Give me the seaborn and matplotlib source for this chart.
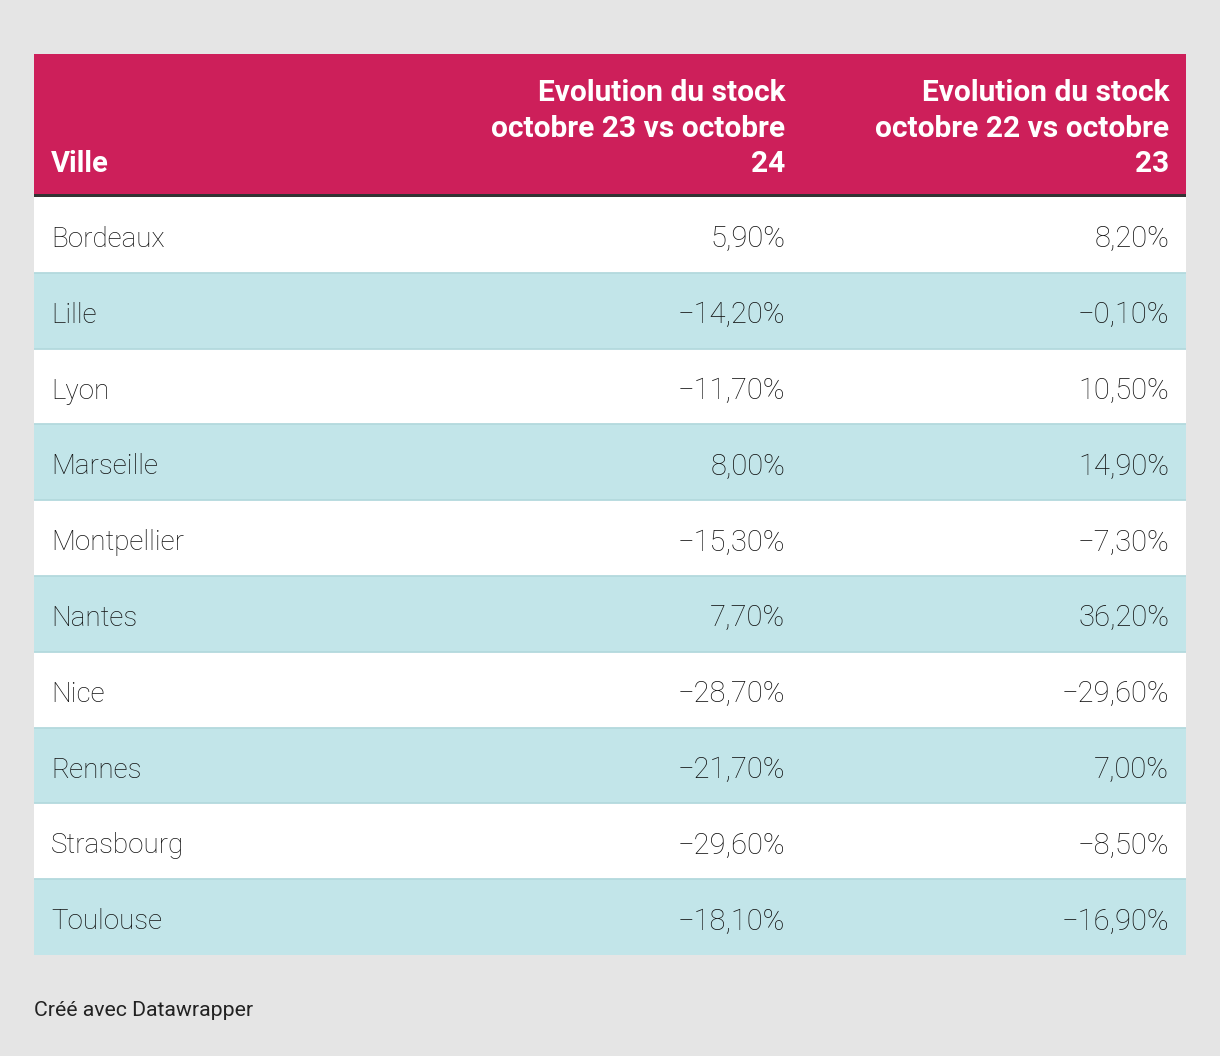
import numpy as np
import pandas as pd
import matplotlib.pyplot as plt
import seaborn as sns
from matplotlib.colors import ListedColormap
from matplotlib.patches import Rectangle

villes = ['Bordeaux', 'Lille', 'Lyon', 'Marseille', 'Montpellier',
          'Nantes', 'Nice', 'Rennes', 'Strasbourg', 'Toulouse']
evol_23_24 = [5.9, -14.2, -11.7, 8.0, -15.3, 7.7, -28.7, -21.7, -29.6, -18.1]
evol_22_23 = [8.2, -0.1, 10.5, 14.9, -7.3, 36.2, -29.6, 7.0, -8.5, -16.9]
entetes = ['Ville',
           'Evolution du stock\noctobre 23 vs octobre\n24',
           'Evolution du stock\noctobre 22 vs octobre\n23']


def fmt(v):
    s = f"{abs(v):.2f}".replace('.', ',') + '%'
    return ('\u2212' + s) if v < 0 else s


df = pd.DataFrame({'Ville': villes, 'a': evol_23_24, 'b': evol_22_23})
# 0 = ligne blanche, 1 = ligne bleutée
bandes = pd.DataFrame(np.tile((np.arange(len(df)) % 2)[:, None], (1, 3)))

W, H = 1220, 1056
fig = plt.figure(figsize=(W / 100, H / 100), dpi=100)
fig.patch.set_facecolor('#e5e5e5')

x0, x1 = 34, 1186
y_head, y_line, y_body, y_end = 54, 194, 197, 955

# corps du tableau
ax = fig.add_axes([x0 / W, 1 - y_end / H, (x1 - x0) / W, (y_end - y_body) / H])
sns.heatmap(bandes, cmap=ListedColormap(['#ffffff', '#c2e5e9']), cbar=False,
            ax=ax, xticklabels=False, yticklabels=False, vmin=0, vmax=1)
for i in range(1, len(df)):
    ax.axhline(i, color='#b3d9dd', lw=1.3)

txt = dict(fontfamily='Roboto', fontweight='light', color='#111111',
           va='center_baseline')
pad = 17 / ((x1 - x0) / 3)
for i, row in df.iterrows():
    y = i + 0.52
    ax.text(pad, y, row['Ville'], ha='left', fontsize=20, **txt)
    ax.text(2 - pad, y, fmt(row['a']), ha='right', fontsize=21, **txt)
    ax.text(3 - pad, y, fmt(row['b']), ha='right', fontsize=21, **txt)
ax.set_xlabel('')
ax.set_ylabel('')

# en-tête
hx = fig.add_axes([x0 / W, 1 - y_body / H, (x1 - x0) / W, (y_body - y_head) / H])
hx.set_xlim(0, 3)
hx.set_ylim(y_body, y_head)
hx.add_patch(Rectangle((0, y_head), 3, y_line - y_head, color='#cd1f5a', lw=0))
hx.add_patch(Rectangle((0, y_line), 3, y_body - y_line, color='#333333', lw=0))
hx.axis('off')
hx.text(pad, 172, entetes[0], ha='left', va='baseline', fontsize=21,
        fontfamily='Roboto', fontweight='bold', color='white')
for j, t in enumerate(entetes[1:], start=2):
    hx.text(j - pad, 172, t, ha='right', va='baseline', fontsize=21.5,
            fontfamily='Roboto', fontweight='bold', color='white',
            multialignment='right', linespacing=1.33)

fig.text(34 / W, 1 - 1010 / H, 'Créé avec Datawrapper', ha='left', va='center',
         fontsize=15.3, fontfamily='Roboto', color='#222222')

plt.savefig('out.png', dpi=100, facecolor=fig.get_facecolor())
plt.close()
